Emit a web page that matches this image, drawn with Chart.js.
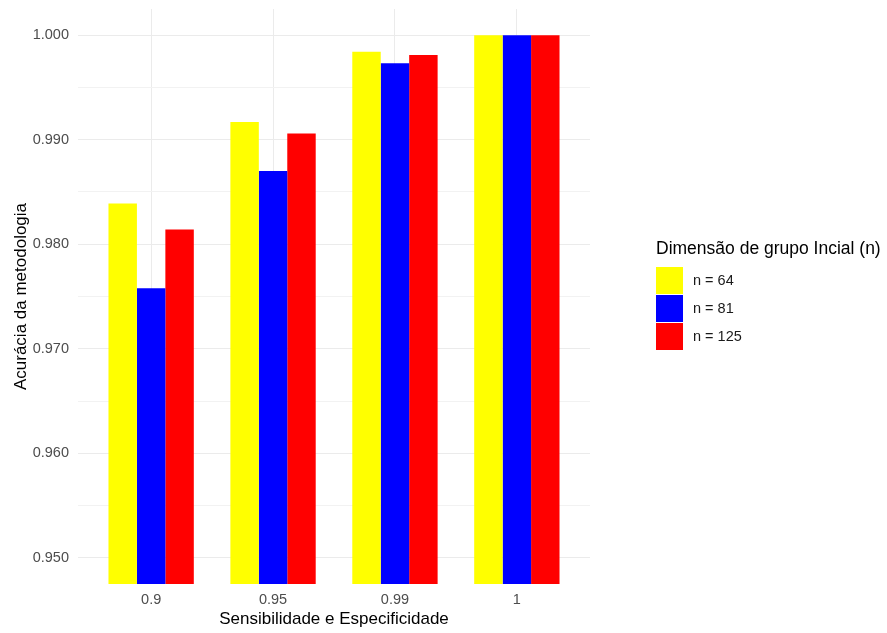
<!DOCTYPE html>
<html>
<head>
<meta charset="utf-8">
<script src="https://cdn.jsdelivr.net/npm/chart.js@4"></script>
<style>
    html, body { margin: 0; padding: 0; background: #fff; }
    #wrap { width: 887px; height: 633px; }
</style>
</head>
<body>
<div id="wrap"><canvas id="chart" width="887" height="633"></canvas></div>
<script>
// --- Data ---
const categories = ['0.9', '0.95', '0.99', '1'];
const groupLabels = ['n = 64', 'n = 81', 'n = 125'];
const acc64 = [0.9839, 0.9917, 0.9984, 1.000];
const acc81 = [0.9758, 0.9870, 0.9973, 1.000];
const acc125 = [0.9814, 0.9906, 0.9981, 1.000];
const yTicks = [0.950, 0.955, 0.960, 0.965, 0.970, 0.975, 0.980, 0.985, 0.990, 0.995, 1.000];
const yMajor = [0.950, 0.960, 0.970, 0.980, 0.990, 1.000];
const colors = ['#FFFF00', '#0000FF', '#FF0000'];

const series = [acc64, acc81, acc125];
const FONT = "'Liberation Sans', Arial, sans-serif";

const isMajor = v => yMajor.some(m => Math.abs(m - v) < 1e-6);

// legend drawn ggplot-style, to the right of the panel
const ggLegend = {
    id: 'ggLegend',
    afterDraw(chart) {
        const ctx = chart.ctx;
        ctx.save();
        ctx.font = `17.5px ${FONT}`;
        ctx.fillStyle = '#000';
        ctx.textBaseline = 'middle';
        ctx.textAlign = 'left';
        ctx.fillText('Dimensão de grupo Incial (n)', 656, 249);
        chart.data.datasets.forEach((ds, i) => {
            const y = 267 + i * 28;
            ctx.fillStyle = ds.backgroundColor;
            ctx.fillRect(656, y, 27, 27);
            ctx.fillStyle = '#1a1a1a';
            ctx.font = `14.5px ${FONT}`;
            ctx.fillText(ds.label, 693, y + 14);
        });
        ctx.restore();
    }
};

new Chart(document.getElementById('chart'), {
    type: 'bar',
    data: {
        datasets: series.map((vals, i) => ({
            label: groupLabels[i],
            data: vals.map((v, j) => ({ x: j, y: v })),
            backgroundColor: colors[i],
            borderWidth: 0,
            categoryPercentage: 0.7,
            barPercentage: 1.0
        }))
    },
    options: {
        responsive: false,
        animation: false,
        layout: { padding: { left: 0, top: 9, right: 297, bottom: 0 } },
        plugins: {
            legend: { display: false },
            tooltip: { enabled: false }
        },
        scales: {
            x: {
                type: 'linear',
                min: -0.6,
                max: 3.6,
                offset: false,
                afterBuildTicks: s => { s.ticks = categories.map((c, i) => ({ value: i })); },
                afterFit: s => { s.height = 49; s.paddingLeft = 0; s.paddingRight = 0; },
                border: { display: false },
                grid: { color: '#EBEBEB', lineWidth: 1, drawTicks: false, offset: false },
                ticks: {
                    padding: 7,
                    color: '#4D4D4D',
                    font: { family: FONT, size: 14.5 },
                    callback: v => categories[v]
                },
                title: {
                    display: true,
                    text: 'Sensibilidade e Especificidade',
                    color: '#000',
                    font: { family: FONT, size: 17 },
                    padding: { top: 0, bottom: 3 }
                }
            },
            y: {
                min: 0.9475,
                max: 1.0025,
                afterBuildTicks: s => { s.ticks = yTicks.map(v => ({ value: v })); },
                afterFit: s => { s.width = 78; s.paddingTop = 0; s.paddingBottom = 0; },
                border: { display: false },
                grid: {
                    drawTicks: false,
                    color: ctx => isMajor(ctx.tick.value) ? '#EBEBEB' : '#F2F2F2',
                    lineWidth: ctx => isMajor(ctx.tick.value) ? 1.1 : 1
                },
                ticks: {
                    padding: 9,
                    color: '#4D4D4D',
                    font: { family: FONT, size: 14.5 },
                    callback: v => isMajor(v) ? v.toFixed(3) : ''
                },
                title: {
                    display: true,
                    text: 'Acurácia da metodologia',
                    color: '#000',
                    font: { family: FONT, size: 17 },
                    padding: { top: 11, bottom: 0 }
                }
            }
        }
    },
    plugins: [ggLegend]
});
</script>
</body>
</html>
